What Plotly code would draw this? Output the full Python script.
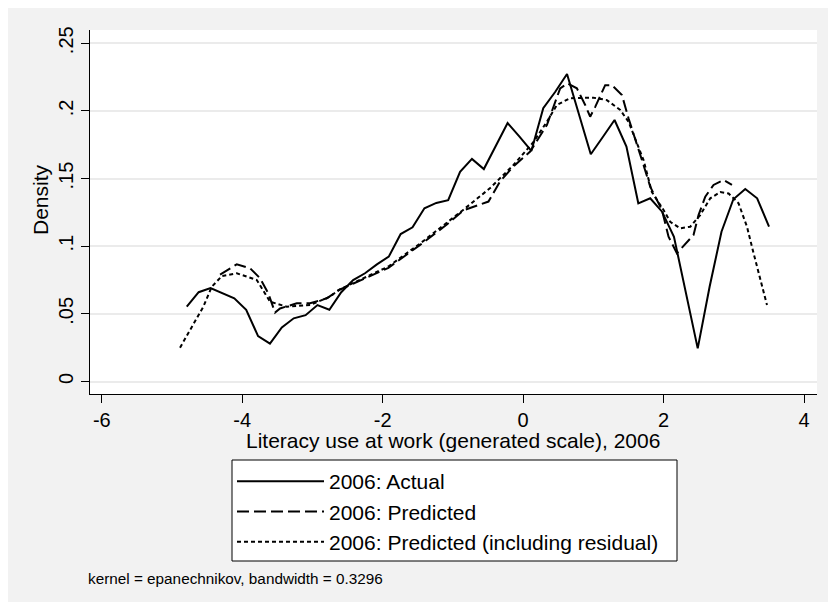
import plotly.graph_objects as go

# Kernel density of literacy use at work, 2006 (50-point grid for the actual series)
actual_x0 = -4.79
actual_step = 0.1692
actual_y = [
    0.0553, 0.066, 0.069, 0.065, 0.0615, 0.053, 0.0336, 0.028, 0.040, 0.0467,
    0.049, 0.0565, 0.053, 0.066, 0.075, 0.080, 0.0866, 0.0923, 0.109, 0.114,
    0.128, 0.132, 0.134, 0.155, 0.1645, 0.157, 0.1736, 0.191, 0.181, 0.1704,
    0.202, 0.214, 0.2273, 0.197, 0.168, 0.1805, 0.1933, 0.1736, 0.1317, 0.1354,
    0.1255, 0.107, 0.065, 0.0245, 0.070, 0.1107, 0.1347, 0.1423, 0.1354, 0.1144,
]
actual_x = [round(actual_x0 + i * actual_step, 4) for i in range(len(actual_y))]

pred_x = [
    -4.316, -4.078, -3.889, -3.746, -3.628, -3.533, -3.462, -3.224, -3.034, -2.796,
    -2.607, -2.322, -1.919, -1.467, -1.087, -0.850, -0.494, -0.328, -0.138, 0.100,
    0.338, 0.527, 0.631, 0.765, 0.883, 0.954, 1.026, 1.168, 1.264, 1.406,
    1.500, 1.691, 1.809, 1.976, 2.070, 2.189, 2.332, 2.426, 2.497, 2.593,
    2.711, 2.853, 2.973,
]
pred_y = [
    0.079, 0.0866, 0.0837, 0.0763, 0.065, 0.0509, 0.054, 0.0578, 0.0578, 0.0615,
    0.068, 0.0745, 0.084, 0.101, 0.116, 0.1265, 0.133, 0.148, 0.159, 0.170,
    0.1896, 0.2167, 0.2204, 0.2167, 0.2044, 0.1957, 0.203, 0.219, 0.219, 0.2118,
    0.1946, 0.1637, 0.144, 0.1268, 0.107, 0.0948, 0.1033, 0.1083, 0.123, 0.1366,
    0.1453, 0.149, 0.1453,
]

resid_x = [
    -4.886, -4.554, -4.435, -4.288, -4.078, -3.793, -3.604, -3.462, -3.366, -3.034,
    -2.749, -2.631, -2.322, -1.919, -1.467, -1.087, -0.850, -0.470, -0.138, 0.147,
    0.338, 0.480, 0.670, 1.001, 1.192, 1.382, 1.500, 1.714, 1.833, 1.999,
    2.094, 2.236, 2.379, 2.521, 2.664, 2.806, 2.925, 3.067, 3.187, 3.281,
    3.376, 3.472,
]
resid_y = [
    0.025, 0.0553, 0.070, 0.078, 0.080, 0.075, 0.059, 0.0565, 0.0553, 0.0565,
    0.0627, 0.0676, 0.075, 0.085, 0.102, 0.117, 0.127, 0.143, 0.160, 0.177,
    0.192, 0.2044, 0.2094, 0.2098, 0.208, 0.2007, 0.192, 0.1637, 0.140, 0.1268,
    0.118, 0.1132, 0.1144, 0.123, 0.1354, 0.140, 0.139, 0.1317, 0.1144, 0.0948,
    0.075, 0.0565,
]

x_ticks = [-6, -4, -2, 0, 2, 4]
x_ticktext = ["-6", "-4", "-2", "0", "2", "4"]
y_ticks = [0, 0.05, 0.1, 0.15, 0.2, 0.25]
y_ticktext = ["0", ".05", ".1", ".15", ".2", ".25"]

series_names = ["2006: Actual", "2006: Predicted", "2006: Predicted (including residual)"]

FONT = "Liberation Sans, Arial, sans-serif"
FS = 21
BG = "#f2f2f2"

fig = go.Figure()
fig.add_trace(go.Scatter(x=actual_x, y=actual_y, mode="lines", name=series_names[0],
                         line=dict(color="black", width=2)))
fig.add_trace(go.Scatter(x=pred_x, y=pred_y, mode="lines", name=series_names[1],
                         line=dict(color="black", width=2, dash="12px,5px")))
fig.add_trace(go.Scatter(x=resid_x, y=resid_y, mode="lines", name=series_names[2],
                         line=dict(color="black", width=2, dash="4px,3px")))

W, H = 828, 604
L, R, T, B = 90, 11, 30, 210
pw, ph = W - L - R, H - T - B


def px_x(p):
    return (p - L) / pw


def px_y(p):
    return (H - B - p) / ph


def white_rect(x0, y0, x1, y1, border=0):
    return dict(type="rect", xref="paper", yref="paper", layer="below",
                x0=px_x(x0), x1=px_x(x1), y0=px_y(y1), y1=px_y(y0),
                fillcolor="white",
                line=dict(width=border, color="black"))


fig.update_layout(
    width=W, height=H,
    margin=dict(l=L, r=R, t=T, b=B),
    paper_bgcolor=BG,
    plot_bgcolor="white",
    font=dict(family=FONT, size=FS, color="black"),
    showlegend=True,
    legend=dict(
        x=px_x(232), y=px_y(461), xanchor="left", yanchor="top",
        bgcolor="rgba(0,0,0,0)", borderwidth=0,
        itemwidth=87, font=dict(size=FS), tracegroupgap=0,
    ),
    xaxis=dict(
        range=[-6.168, 4.184], tickvals=x_ticks, ticktext=x_ticktext,
        ticks="outside", ticklen=8,
        tickcolor="black", showline=True, linecolor="black", linewidth=1,
        showgrid=False, zeroline=False, tickfont=dict(size=20),
    ),
    yaxis=dict(
        range=[-0.00924, 0.2598], tickvals=y_ticks, ticktext=y_ticktext,
        tickangle=-90, ticks="outside", ticklen=8, tickcolor="black",
        showline=True, linecolor="black", linewidth=1,
        showgrid=True, gridcolor="#ebebeb", gridwidth=1.5, zeroline=False,
        tickfont=dict(size=20),
    ),
    shapes=[
        # white outer border strips
        white_rect(0, 0, 8, H),
        white_rect(0, 0, W, 8),
        white_rect(0, 602, W, H),
        # legend frame
        white_rect(232, 460, 677, 561, border=1),
    ],
    annotations=[
        dict(text="Density", xref="paper", yref="paper", x=px_x(40), y=px_y(200),
             textangle=-90, showarrow=False, font=dict(size=FS),
             xanchor="center", yanchor="middle"),
        dict(text="Literacy use at work (generated scale), 2006", xref="paper",
             yref="paper", x=px_x(453), y=px_y(440), showarrow=False,
             font=dict(size=FS), xanchor="center", yanchor="middle"),
        dict(text="kernel = epanechnikov, bandwidth = 0.3296", xref="paper",
             yref="paper", x=px_x(86), y=px_y(578), showarrow=False,
             font=dict(size=15.3), xanchor="left", yanchor="middle"),
    ],
)

fig.write_html("out.html")
